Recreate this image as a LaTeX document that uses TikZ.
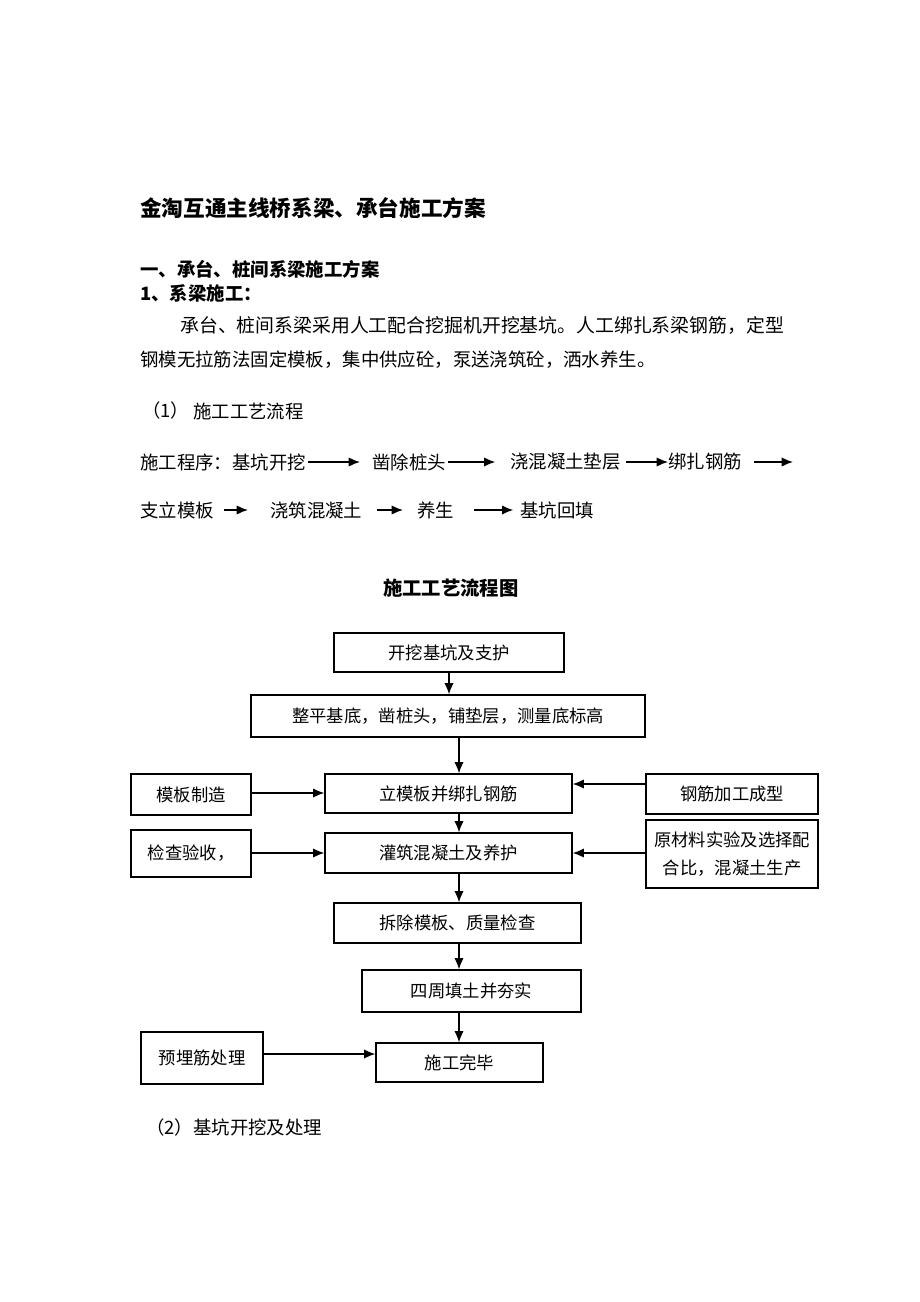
\documentclass[tikz,border=0pt]{standalone}
\usepackage{fontspec}
\newfontfamily\cjk{Noto Sans CJK SC}
\usetikzlibrary{arrows.meta,positioning}
\tikzset{
    %Define standard arrow tip
    >={Latex[length=8.5pt,width=7pt]},
    %Define style for flow boxes
    stepbox/.style={
           rectangle,
           draw=black, line width=0.9pt,
           inner sep=1pt,
           font=\cjk\fontsize{13}{15}\selectfont,
           text centered},
    sidebox/.style={
           stepbox,
           minimum width=90pt},
    %Define style for plain text lines
    txt/.style={
           anchor=west,
           inner sep=0pt,
           font=\cjk\fontsize{13.8}{16}\selectfont},
    head/.style={
           txt,
           font=\cjk\bfseries\fontsize{13.8}{16}\selectfont},
    % Define arrow style
    pil/.style={
           ->,
           line width=1.1pt}
}
\begin{document}
\begin{tikzpicture}[x=0.75pt,y=-0.75pt]
\useasboundingbox[fill=white] (0,0) rectangle (920,1302);
% headings
\node[head, font=\cjk\bfseries\fontsize{16.2}{19}\selectfont](title) at (140,208){金淘互通主线桥系梁、承台施工方案};
\node[head](sec) at (140,269){一、承台、桩间系梁施工方案};
\node[head](sub) at (140,293){1、系梁施工：};
\node[txt, font=\cjk\fontsize{14.15}{16}\selectfont](par1) at (180,325){承台、桩间系梁采用人工配合挖掘机开挖基坑。人工绑扎系梁钢筋，定型};
\node[txt, font=\cjk\fontsize{13.8}{16}\selectfont](par2) at (140,360){钢模无拉筋法固定模板，集中供应砼，泵送浇筑砼，洒水养生。};
\node[txt](num1) at (142,411){（1）};
\node[txt](flow) at (193,411){施工工艺流程};
% program, first row
\node[txt](p1) at (140,462){施工程序：基坑开挖};
\node[txt](p2) at (372,462){凿除桩头};
\node[txt](p3) at (510,462){浇混凝土垫层};
\node[txt](p4) at (668,462){绑扎钢筋};
\coordinate (pend) at (793,462);
\path[pil]
	(p1) edge[shorten <=1.5pt, shorten >=9pt] (p2)
	(p2) edge[shorten <=1.5pt, shorten >=11pt] (p3)
	(p3) edge[shorten <=4pt] (p4)
	(p4) edge[shorten <=9pt] (pend);
% program, second row
\node[txt](q1) at (140,510){支立模板};
\node[txt](q2) at (270,510){浇筑混凝土};
\node[txt](q3) at (417,510){养生};
\node[txt](q4) at (520,510){基坑回填};
\path[pil]
	(q1) edge[shorten <=7.5pt, shorten >=16.5pt] (q2)
	(q2) edge[shorten <=11pt, shorten >=10.5pt] (q3)
	(q3) edge[shorten <=15pt, shorten >=5pt] (q4);
% chart
\node[head, font=\cjk\bfseries\fontsize{14.5}{17}\selectfont](chart) at (383,588){施工工艺流程图};
\node[stepbox, minimum width=172.5pt, minimum height=29.25pt](dig) at (449,652.5){开挖基坑及支护};
\node[stepbox, minimum width=295.5pt, minimum height=31.5pt](level) at (448,716){整平基底，凿桩头，铺垫层，测量底标高};
\node[stepbox, minimum width=185.25pt, minimum height=29.25pt](form) at (448.5,793.5){立模板并绑扎钢筋};
\node[stepbox, minimum width=185.25pt, minimum height=30pt](pour) at (448.5,853){灌筑混凝土及养护};
\node[stepbox, minimum width=185.25pt, minimum height=30pt](strip) at (457.5,923){拆除模板、质量检查};
\node[stepbox, minimum width=164.25pt, minimum height=31.5pt](fill) at (471.5,991){四周填土并夯实};
\node[stepbox, minimum width=125.25pt, minimum height=29.25pt](done) at (459.5,1062.5){施工完毕};
\node[sidebox, minimum height=30.75pt](mould) at (191,794.5){模板制造};
\node[sidebox, minimum height=35.25pt](check) at (191,853.5){检查验收，};
\node[sidebox, minimum width=91.5pt, minimum height=39pt](embed) at (202,1058){预埋筋处理};
\node[stepbox, minimum width=129pt, minimum height=30pt](rebar) at (732,794){钢筋加工成型};
\node[stepbox, minimum width=129pt, minimum height=51pt, align=center, font=\cjk\fontsize{13}{21}\selectfont](mix) at (732,854){原材料实验及选择配\\合比，混凝土生产};
\coordinate (spine) at (459,0);
\coordinate (top) at (449,0);
\coordinate (rline) at (0,784);
\coordinate (lline) at (0,793);
\coordinate (bline) at (0,1054);
\draw[pil] (dig.south -| top) -- (level.north -| top);
\draw[pil] (level.south -| spine) -- (form.north -| spine);
\draw[pil] (form.south -| spine) -- (pour.north -| spine);
\draw[pil] (pour.south -| spine) -- (strip.north -| spine);
\draw[pil] (strip.south -| spine) -- (fill.north -| spine);
\draw[pil] (fill.south -| spine) -- (done.north -| spine);
\draw[pil] (mould.east |- lline) -- (form.west |- lline);
\draw[pil] (rebar.west |- rline) -- (form.east |- rline);
\draw[pil] (check.east |- pour) -- (pour.west);
\draw[pil] (mix.west |- pour) -- (pour.east);
\draw[pil] (embed.east |- bline) -- (done.west |- bline);
% next section
\node[txt](num2) at (146,1127){（2）基坑开挖及处理};
\end{tikzpicture}
\end{document}
